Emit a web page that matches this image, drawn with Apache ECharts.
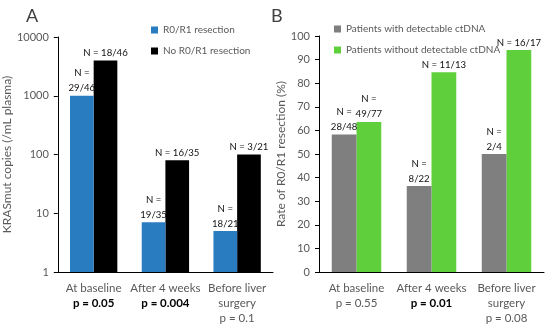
<!DOCTYPE html>
<html><head><meta charset="utf-8">
<script src="https://cdn.jsdelivr.net/npm/echarts@6/dist/echarts.min.js"></script>
<style>html,body{margin:0;padding:0;background:#fff}#c{width:550px;height:327px}</style>
</head><body><div id="c"></div>
<script>
const categories = ['At baseline', 'After 4 weeks', 'Before liver\nsurgery'];
const pValuesA = ['p = 0.05', 'p = 0.004', 'p = 0.1'];
const pBoldA = [true, true, false];
const pValuesB = ['p = 0.55', 'p = 0.01', 'p = 0.08'];
const pBoldB = [false, true, false];

const seriesA1Name = 'R0/R1 resection';
const seriesA2Name = 'No R0/R1 resection';
const seriesA1 = [1000, 7, 5];
const seriesA2 = [4000, 80, 100];
const labelsA1 = ['N =\n29/46', 'N =\n19/35', 'N =\n18/21'];
const labelsA2 = ['N = 18/46', 'N = 16/35', 'N = 3/21'];

const seriesB1Name = 'Patients with detectable ctDNA';
const seriesB2Name = 'Patients without detectable ctDNA';
const seriesB1 = [58.3, 36.4, 50.0];
const seriesB2 = [63.6, 84.6, 94.1];
const labelsB1 = ['N =\n28/48', 'N =\n8/22', 'N =\n2/4'];
const labelsB2 = ['N =\n49/77', 'N = 11/13', 'N = 16/17'];

const ticksA = [1, 10, 100, 1000, 10000];

const FONT = 'Lato';
const GREY = '#595959';

function catFormatter(pv, pb) {
  return function (value, idx) {
    return value + '\n' + (pb[idx] ? '{b|' + pv[idx] + '}' : '{n|' + pv[idx] + '}');
  };
}

function xAxis(gi, pv, pb) {
  return {
    type: 'category', gridIndex: gi, data: categories,
    axisLine: { lineStyle: { color: '#000', width: 1 } },
    axisTick: { show: false },
    axisLabel: {
      color: GREY, fontFamily: FONT, fontSize: 11.5, lineHeight: 15, margin: 9,
      interval: 0,
      formatter: catFormatter(pv, pb),
      rich: {
        b: { fontWeight: 'bold', color: '#000', fontFamily: FONT, fontSize: 11.5, lineHeight: 15 },
        n: { color: GREY, fontFamily: FONT, fontSize: 11.5, lineHeight: 15 }
      }
    }
  };
}

function barSeries(name, data, labels, color, xi, yi, z, dx) {
  return {
    type: 'bar', name: name, data: data, xAxisIndex: xi, yAxisIndex: yi, z: z,
    barGap: '0%', barCategoryGap: '34%',
    itemStyle: { color: color },
    label: {
      show: true, position: 'top', distance: 0, offset: [dx, 0],
      color: '#111', fontFamily: FONT, fontSize: 9.6, lineHeight: 15,
      formatter: function (p) { return labels[p.dataIndex]; }
    },
    labelLayout: { hideOverlap: false, moveOverlap: false }
  };
}

const chart = echarts.init(document.getElementById('c'), null, { renderer: 'canvas' });
chart.setOption({
  animation: false,
  textStyle: { fontFamily: FONT },
  title: [
    { text: 'A', left: 21, top: 2, textStyle: { fontFamily: FONT, fontSize: 18, fontWeight: 'normal', color: '#404040' } },
    { text: 'B', left: 266, top: 2, textStyle: { fontFamily: FONT, fontSize: 18, fontWeight: 'normal', color: '#404040' } }
  ],
  legend: [
    {
      data: [seriesA1Name, seriesA2Name], orient: 'vertical', left: 146, top: 20,
      itemWidth: 7, itemHeight: 7, itemGap: 11, icon: 'rect',
      textStyle: { color: GREY, fontFamily: FONT, fontSize: 10 }
    },
    {
      data: [seriesB1Name, seriesB2Name], orient: 'vertical', left: 329, top: 19,
      itemWidth: 7, itemHeight: 7, itemGap: 11, icon: 'rect',
      textStyle: { color: GREY, fontFamily: FONT, fontSize: 10 }
    }
  ],
  grid: [
    { left: 53, right: 277, top: 37, bottom: 55 },
    { left: 319, right: 6, top: 36, bottom: 55 }
  ],
  xAxis: [xAxis(0, pValuesA, pBoldA), xAxis(1, pValuesB, pBoldB)],
  yAxis: [
    {
      type: 'log', logBase: 10, gridIndex: 0, min: ticksA[0], max: ticksA[ticksA.length - 1],
      name: 'KRASmut copies (/mL plasma)', nameLocation: 'middle', nameGap: 35,
      nameTextStyle: { color: GREY, fontFamily: FONT, fontSize: 12 },
      axisLine: { show: true, lineStyle: { color: '#000' } },
      axisTick: { show: true, length: 4, lineStyle: { color: '#000' } },
      splitLine: { show: false },
      axisLabel: { color: GREY, fontFamily: FONT, fontSize: 11, margin: 9,
        formatter: function (v) { return String(Math.round(v)); } }
    },
    {
      type: 'value', gridIndex: 1, min: 0, max: 100, interval: 10,
      name: 'Rate of R0/R1 resection (%)', nameLocation: 'middle', nameGap: 27,
      nameTextStyle: { color: GREY, fontFamily: FONT, fontSize: 12 },
      axisLine: { show: true, lineStyle: { color: '#000' } },
      axisTick: { show: true, length: 4, lineStyle: { color: '#000' } },
      splitLine: { show: false },
      axisLabel: { color: GREY, fontFamily: FONT, fontSize: 11, margin: 9 }
    }
  ],
  series: [
    barSeries(seriesA1Name, seriesA1, labelsA1, '#2a7cc1', 0, 0, 3, -3),
    barSeries(seriesA2Name, seriesA2, labelsA2, '#000000', 0, 0, 2, 0),
    barSeries(seriesB1Name, seriesB1, labelsB1, '#7f7f7f', 1, 1, 3, -4),
    barSeries(seriesB2Name, seriesB2, labelsB2, '#5fcf3c', 1, 1, 2, 0)
  ]
});
</script></body></html>
